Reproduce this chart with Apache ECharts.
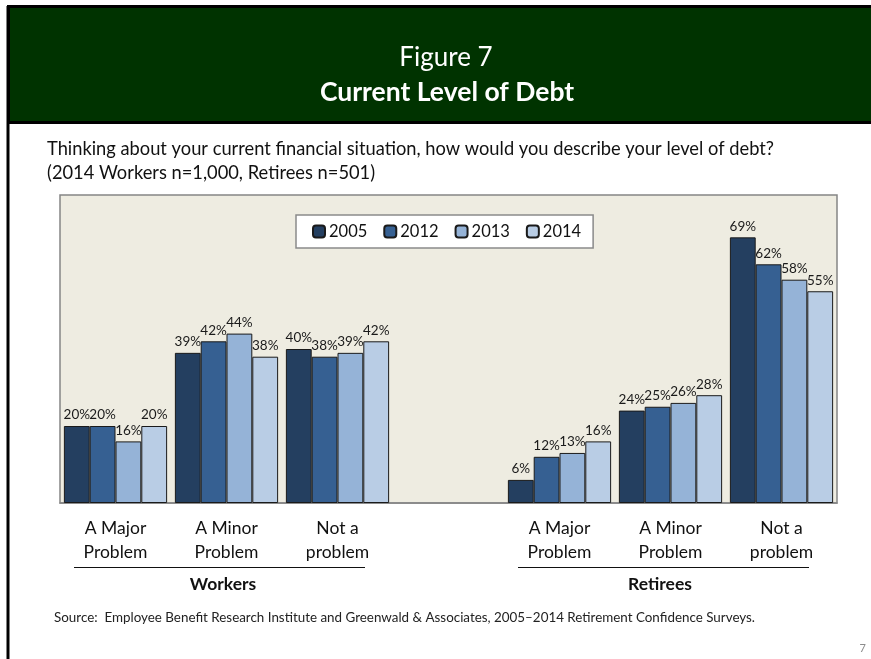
<!DOCTYPE html>
<html>
<head>
<meta charset="utf-8">
<style>
  html, body { margin: 0; padding: 0; background: #ffffff; }
  #chart { width: 871px; height: 659px; }
</style>
<script src="https://cdn.jsdelivr.net/npm/echarts@6/dist/echarts.min.js"></script>
</head>
<body>
<div id="chart"></div>
<script>
// Response categories: workers (left), spacer, retirees (right)
const categories = [
  'A Major\nProblem', 'A Minor\nProblem', 'Not a\nproblem',
  '',
  'A Major\nProblem', 'A Minor\nProblem', 'Not a\nproblem'
];
const years = ['2005', '2012', '2013', '2014'];

// Percentages per survey year (spacer slot left empty)
const y2005 = [20, 39, 40, '-', 6, 24, 69];
const y2012 = [20, 42, 38, '-', 12, 25, 62];
const y2013 = [16, 44, 39, '-', 13, 26, 58];
const y2014 = [20, 38, 42, '-', 16, 28, 55];

const yearColors = ['#243F60', '#366092', '#95B3D7', '#B9CDE5'];
const FONT = 'Lato, "Open Sans", sans-serif';

const chart = echarts.init(document.getElementById('chart'), null, { renderer: 'canvas' });

function barSeries(name, values, color) {
  return {
    name: name,
    type: 'bar',
    data: values,
    barGap: '0%',
    barCategoryGap: '7%',
    itemStyle: { color: color, borderColor: '#1a1a1a', borderWidth: 1 },
    label: {
      show: true,
      position: 'top',
      distance: 4,
      formatter: '{c}%',
      fontFamily: FONT,
      fontSize: 13.5,
      color: '#1a1a1a'
    }
  };
}

chart.setOption({
  animation: false,
  backgroundColor: '#ffffff',
  textStyle: { fontFamily: FONT },
  grid: {
    left: 60, top: 195, width: 777, height: 308,
    show: true,
    backgroundColor: '#EEECE1',
    borderColor: '#858585',
    borderWidth: 1.5
  },
  legend: {
    data: years,
    left: 296, top: 215,
    padding: [8, 12, 8, 16],
    itemGap: 16,
    itemWidth: 12, itemHeight: 12,
    backgroundColor: '#ffffff',
    borderColor: '#8a8a8a',
    borderWidth: 1.5,
    textStyle: { fontFamily: FONT, fontSize: 16.5, color: '#111', padding: [0, 0, 0, -1] }
  },
  xAxis: {
    type: 'category',
    data: categories,
    axisLine: { show: true, lineStyle: { color: '#858585', width: 1.5 } },
    axisTick: { show: false },
    axisLabel: {
      interval: 0,
      margin: 13,
      fontFamily: FONT,
      fontSize: 17.5,
      lineHeight: 24,
      color: '#111'
    }
  },
  yAxis: {
    type: 'value',
    min: 0, max: 80,
    show: false,
    splitLine: { show: false }
  },
  series: [
    barSeries(years[0], y2005, yearColors[0]),
    barSeries(years[1], y2012, yearColors[1]),
    barSeries(years[2], y2013, yearColors[2]),
    barSeries(years[3], y2014, yearColors[3])
  ],
  graphic: [
    // Header banner
    { type: 'rect', shape: { x: 8.5, y: 6.5, width: 866, height: 116 },
      style: { fill: '#003300', stroke: '#000', lineWidth: 3 }, z: 0 },
    { type: 'line', shape: { x1: 8, y1: 6, x2: 8, y2: 659 },
      style: { stroke: '#000', lineWidth: 3 } },
    { type: 'text', x: 446, y: 58,
      style: { text: 'Figure 7', fill: '#ffffff', font: '26px ' + FONT, align: 'center', verticalAlign: 'middle' } },
    { type: 'text', x: 447, y: 92,
      style: { text: 'Current Level of Debt', fill: '#ffffff', font: 'bold 26.5px ' + FONT, align: 'center', verticalAlign: 'middle' } },
    // Question text
    { type: 'text', x: 47, y: 149,
      style: { text: 'Thinking about your current financial situation, how would you describe your level of debt?',
               fill: '#111', font: '18.3px ' + FONT, verticalAlign: 'middle' } },
    { type: 'text', x: 47, y: 173,
      style: { text: '(2014 Workers n=1,000, Retirees n=501)',
               fill: '#111', font: '18.3px ' + FONT, verticalAlign: 'middle' } },
    // Group brackets
    { type: 'line', shape: { x1: 74, y1: 567.5, x2: 365, y2: 567.5 }, style: { stroke: '#111', lineWidth: 1 } },
    { type: 'line', shape: { x1: 518, y1: 567.5, x2: 809, y2: 567.5 }, style: { stroke: '#111', lineWidth: 1 } },
    { type: 'text', x: 223, y: 584,
      style: { text: 'Workers', fill: '#111', font: 'bold 17.5px ' + FONT, align: 'center', verticalAlign: 'middle' } },
    { type: 'text', x: 660, y: 584,
      style: { text: 'Retirees', fill: '#111', font: 'bold 17.5px ' + FONT, align: 'center', verticalAlign: 'middle' } },
    // Source note
    { type: 'text', x: 54, y: 618,
      style: { text: 'Source:  Employee Benefit Research Institute and Greenwald & Associates, 2005\u20132014 Retirement Confidence Surveys.',
               fill: '#222', font: '13.4px ' + FONT, verticalAlign: 'middle' } },
    // Page number
    { type: 'text', x: 866, y: 648,
      style: { text: '7', fill: '#8c8c8c', font: '11px ' + FONT, align: 'right', verticalAlign: 'middle' } }
  ]
});
</script>
</body>
</html>
